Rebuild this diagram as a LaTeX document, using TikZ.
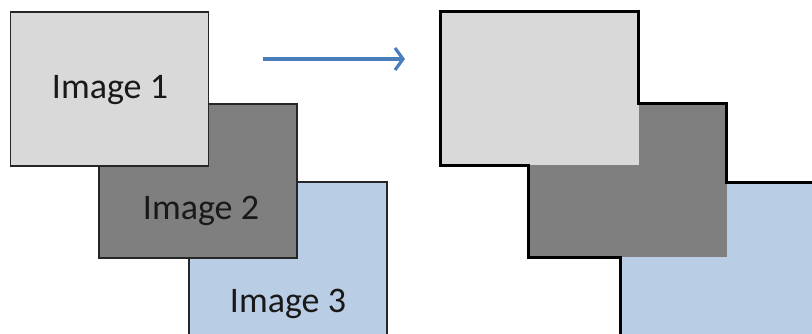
\documentclass[tikz,border=0pt]{standalone}
\usepackage{fontspec}
\setmainfont{Carlito}
\usetikzlibrary{arrows.meta}
\definecolor{lgray}{HTML}{D9D9D9}
\definecolor{dgray}{HTML}{7F7F7F}
\definecolor{lblue}{HTML}{B9CDE5}
\definecolor{arrblue}{HTML}{4A7EBB}

\begin{document}
\begin{tikzpicture}[x=1pt,y=-1pt,
    img/.style={draw=black!85,line width=1.3pt,minimum width=198pt,minimum height=154pt,inner sep=0pt},
    patch/.style={minimum width=198pt,minimum height=153pt,inner sep=0pt},
    lbl/.style={font=\fontsize{36}{40}\selectfont,text=black!90,inner sep=0pt,anchor=base}]
  \useasboundingbox (0,0) rectangle (812,334);
  \clip (0,0) rectangle (812,334);
  % stacked images
  \node[img,fill=lblue](img3) at (288,259){};
  \node[img,fill=dgray](img2) at (198,181){};
  \node[img,fill=lgray](img1) at (109.5,89){};
  \node[lbl](lbl1) at (110,99){Image 1};
  \node[lbl](lbl2) at (201,219){Image 2};
  \node[lbl](lbl3) at (288,312){Image 3};
  % arrow
  \coordinate (arrS) at (263,59);
  \coordinate (arrE) at (405,59);
  \draw[arrblue,line width=3.2pt,-{Straight Barb[length=8pt,width=22pt,line width=3.2pt]}] (arrS) -- (arrE);
  % merged result
  \node[patch,fill=lblue](out3) at (720,259){};
  \node[patch,fill=dgray](out2) at (627.5,180.5){};
  \node[patch,fill=lgray](out1) at (539.5,88.5){};
  \draw[line width=3pt,line join=miter]
    (out3.south west) -- (out3.south west |- out2.south) -- (out2.south west)
    -- (out2.south west |- out1.south) -- (out1.south west) -- (out1.north west)
    -- (out1.north east) -- (out1.north east |- out2.north) -- (out2.north east)
    -- (out2.north east |- out3.north) -- (out3.north east);
\end{tikzpicture}
\end{document}
